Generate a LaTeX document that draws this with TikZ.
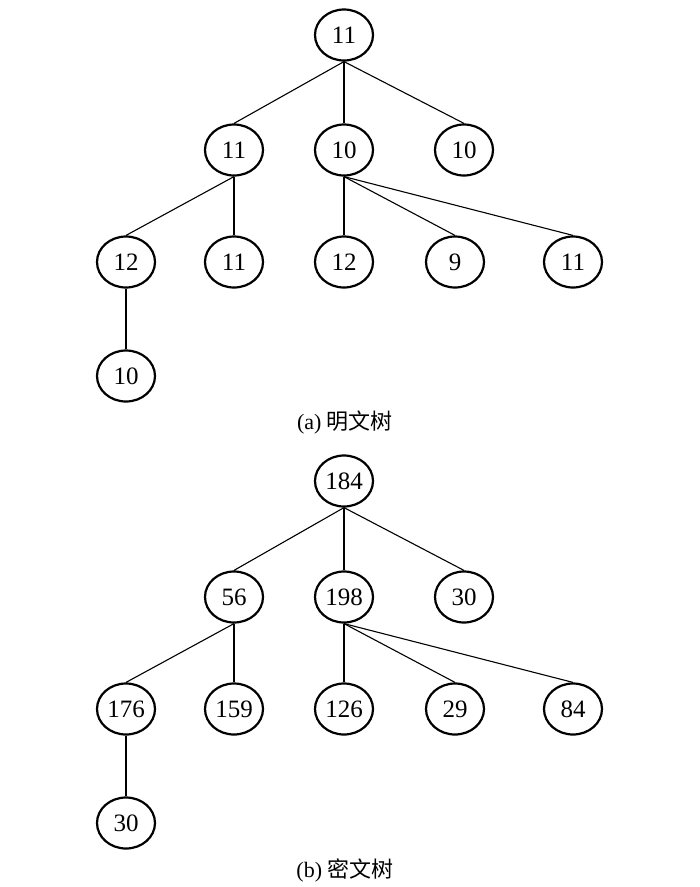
\documentclass[tikz,border=0pt]{standalone}
\usepackage{fontspec}
\setmainfont{Liberation Serif}
\newfontfamily\cjk{Noto Sans CJK SC}
\usetikzlibrary{shapes.geometric}
\begin{document}
\begin{tikzpicture}[x=1pt,y=-1pt,
  tnode/.style={ellipse,draw,line width=2.2pt,minimum width=58pt,minimum height=51pt,inner sep=0pt,font=\fontsize{25}{25}\selectfont},
  edge/.style={line width=1.1pt},
  captext/.style={font=\fontsize{22}{22}\selectfont}]
\useasboundingbox (0,0) rectangle (700,887);
% tree a
\node[tnode] (a0) at (344,35) {11};
\node[tnode] (a1) at (234,150) {11};
\node[tnode] (a2) at (344,150) {10};
\node[tnode] (a3) at (464,150) {10};
\node[tnode] (a4) at (126,262) {12};
\node[tnode] (a5) at (234,262) {11};
\node[tnode] (a6) at (344,262) {12};
\node[tnode] (a7) at (455,262) {9};
\node[tnode] (a8) at (573,262) {11};
\node[tnode] (a9) at (126,376) {10};
\draw[edge] (a0.south) -- (a1.north);
\draw[edge] (a0.south) -- (a2.north);
\draw[edge] (a0.south) -- (a3.north);
\draw[edge] (a1.south) -- (a4.north);
\draw[edge] (a1.south) -- (a5.north);
\draw[edge] (a2.south) -- (a6.north);
\draw[edge] (a2.south) -- (a7.north);
\draw[edge] (a2.south) -- (a8.north);
\draw[edge] (a4.south) -- (a9.north);
\node[captext] (capa) at (345,423) {(a) {\cjk 明文树}};
% tree b
\node[tnode] (b0) at (344,481) {184};
\node[tnode] (b1) at (234,597) {56};
\node[tnode] (b2) at (344,597) {198};
\node[tnode] (b3) at (464,597) {30};
\node[tnode] (b4) at (126,709) {176};
\node[tnode] (b5) at (234,709) {159};
\node[tnode] (b6) at (344,709) {126};
\node[tnode] (b7) at (455,709) {29};
\node[tnode] (b8) at (573,709) {84};
\node[tnode] (b9) at (126,823) {30};
\draw[edge] (b0.south) -- (b1.north);
\draw[edge] (b0.south) -- (b2.north);
\draw[edge] (b0.south) -- (b3.north);
\draw[edge] (b1.south) -- (b4.north);
\draw[edge] (b1.south) -- (b5.north);
\draw[edge] (b2.south) -- (b6.north);
\draw[edge] (b2.south) -- (b7.north);
\draw[edge] (b2.south) -- (b8.north);
\draw[edge] (b4.south) -- (b9.north);
\node[captext] (capb) at (345,870) {(b) {\cjk 密文树}};
\end{tikzpicture}
\end{document}
